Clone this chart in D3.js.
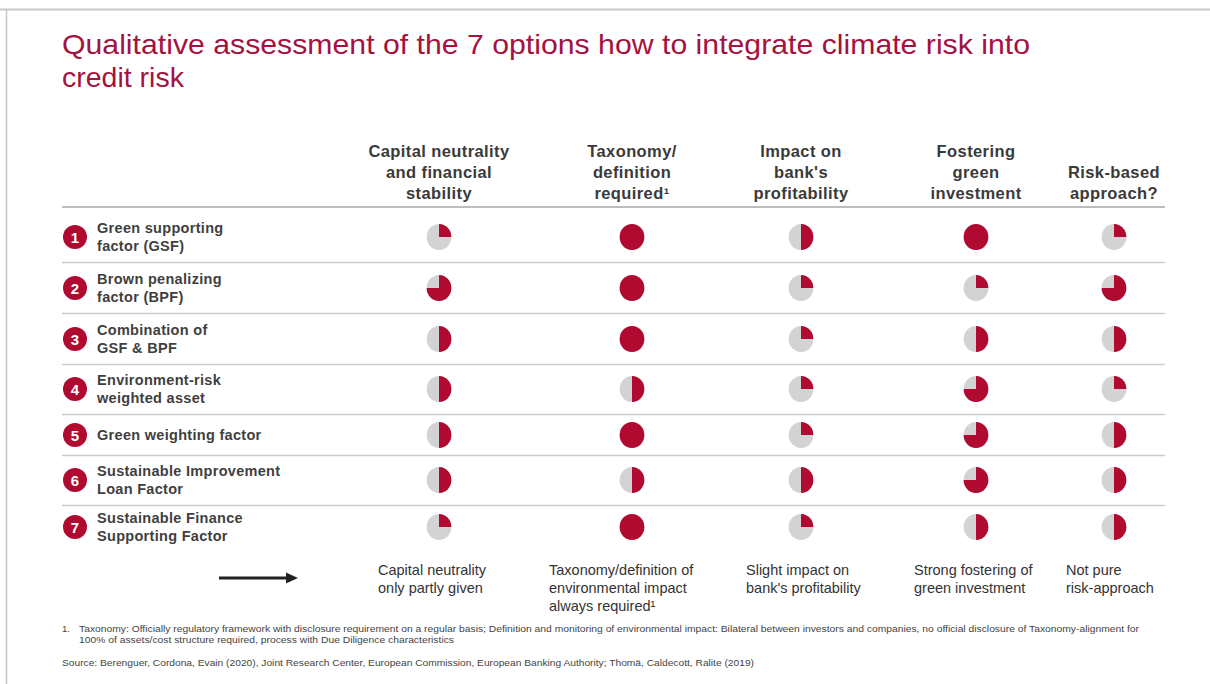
<!DOCTYPE html>
<html><head><meta charset="utf-8">
<script src="https://cdn.jsdelivr.net/npm/d3@7"></script>
<style>body{margin:0;background:#fff}svg{display:block}</style>
</head><body><svg id="c" width="1210" height="684"></svg>
<script>
const titleLines = ["Qualitative assessment of the 7 options how to integrate climate risk into", "credit risk"];
const criteria = [
  ["Capital neutrality", "and financial", "stability"],
  ["Taxonomy/", "definition", "required¹"],
  ["Impact on", "bank's", "profitability"],
  ["Fostering", "green", "investment"],
  ["Risk-based", "approach?"]
];
const options = [
  ["Green supporting", "factor (GSF)"],
  ["Brown penalizing", "factor (BPF)"],
  ["Combination of", "GSF & BPF"],
  ["Environment-risk", "weighted asset"],
  ["Green weighting factor"],
  ["Sustainable Improvement", "Loan Factor"],
  ["Sustainable Finance", "Supporting Factor"]
];
// share of the circle filled (0..1) per option (rows) x criterion (cols)
const scores = [
  [0.25, 1, 0.5, 1, 0.25],
  [0.75, 1, 0.25, 0.25, 0.75],
  [0.5, 1, 0.25, 0.5, 0.5],
  [0.5, 0.5, 0.25, 0.75, 0.25],
  [0.5, 1, 0.25, 0.75, 0.5],
  [0.5, 0.5, 0.5, 0.75, 0.5],
  [0.25, 1, 0.25, 0.5, 0.5]
];
const conclusions = [
  ["Capital neutrality", "only partly given"],
  ["Taxonomy/definition  of", "environmental  impact", "always required¹"],
  ["Slight impact on", "bank's profitability"],
  ["Strong fostering of", "green investment"],
  ["Not pure", "risk-approach"]
];
const footnote = ["1.", "Taxonomy: Officially regulatory framework with disclosure requirement on a regular basis; Definition and monitoring of environmental impact: Bilateral between investors and companies, no official disclosure of Taxonomy-alignment for",
  "100% of assets/cost structure required, process with Due Diligence characteristics"];
const source = "Source: Berenguer, Cordona, Evain (2020), Joint Research Center, European Commission, European Banking Authority; Thomä, Caldecott, Ralite (2019)";

const RED = "#b00a30", GREY = "#d3d3d3", TITLE = "#a4123f";
const svg = d3.select("#c");
const font = "Liberation Sans, Arial, sans-serif";

// slide frame
svg.append("line").attr("x1",0).attr("x2",1210).attr("y1",9.5).attr("y2",9.5).attr("stroke","#c8c8c8").attr("stroke-width",2);
svg.append("line").attr("x1",6.5).attr("x2",6.5).attr("y1",9).attr("y2",684).attr("stroke","#c8c8c8").attr("stroke-width",1.5);

// title
svg.append("g").selectAll("text").data(titleLines).join("text")
  .attr("x",62).attr("y",(d,i)=>54+i*33).attr("fill",TITLE)
  .attr("font-family",font).attr("font-size",28.5).attr("textLength",(d,i)=>i===0?968:null)
  .attr("lengthAdjust","spacingAndGlyphs").text(d=>d);

const colX = [439,632,801,976,1114];
const rowY = [237,288,339,389,435,480,527];
const sepY = [262.5,313.5,364.5,414.5,455.5,505.5];
const yScale = d3.scaleOrdinal().domain(d3.range(options.length)).range(rowY);
const xScale = d3.scaleOrdinal().domain(d3.range(criteria.length)).range(colX);

// header
const hdr = svg.append("g");
criteria.forEach((lines,j)=>{
  const n = lines.length;
  hdr.append("text").attr("x",xScale(j)).attr("text-anchor","middle")
    .attr("font-family",font).attr("font-weight","bold").attr("font-size",16.5).attr("letter-spacing",0.4).attr("fill","#3a3a3a")
    .selectAll("tspan").data(lines).join("tspan")
    .attr("x",xScale(j)).attr("y",(d,i)=>199-(n-1-i)*21).text(d=>d);
});
svg.append("line").attr("x1",62).attr("x2",1165).attr("y1",207).attr("y2",207).attr("stroke","#bdbdbd").attr("stroke-width",2.2);

// row separators
svg.append("g").selectAll("line").data(sepY).join("line")
  .attr("x1",62).attr("x2",1165).attr("y1",d=>d).attr("y2",d=>d).attr("stroke","#cccccc").attr("stroke-width",1.6);

// row labels
const rows = svg.append("g").selectAll("g").data(options).join("g")
  .attr("transform",(d,i)=>`translate(0,${yScale(i)})`);
rows.append("circle").attr("cx",75).attr("cy",0).attr("r",12).attr("fill",RED);
rows.append("text").attr("x",75).attr("y",5.5).attr("text-anchor","middle").attr("fill","#fff")
  .attr("font-family",font).attr("font-weight","bold").attr("font-size",15).text((d,i)=>i+1);
rows.append("text").attr("font-family",font).attr("font-weight","bold").attr("font-size",14.5).attr("letter-spacing",0.3).attr("fill","#3f3f3f")
  .each(function(d){
    const t = d3.select(this);
    const n = d.length;
    d.forEach((line,k)=>{
      t.append("tspan").attr("x",97).attr("y",(k-(n-1)/2)*18+5).text(line);
    });
  });

// harvey balls
const arc = d3.arc().innerRadius(0).outerRadius(13);
const cells = [];
scores.forEach((row,i)=>row.forEach((v,j)=>cells.push({i,j,v})));
const balls = svg.append("g").selectAll("g").data(cells).join("g")
  .attr("transform",d=>`translate(${xScale(d.j)},${yScale(d.i)}) scale(0.95,1)`);
balls.append("circle").attr("r",13).attr("fill",GREY);
balls.append("path").attr("fill",RED)
  .attr("d",d=>arc({startAngle:0,endAngle:d.v*2*Math.PI}));

// arrow
svg.append("line").attr("x1",219).attr("x2",288).attr("y1",578).attr("y2",578).attr("stroke","#222").attr("stroke-width",3);
svg.append("path").attr("d","M286,572.5 L298,578 L286,583.5 Z").attr("fill","#222");

// conclusions
const concX = [378,549,746,914,1066];
conclusions.forEach((lines,j)=>{
  svg.append("text").attr("font-family",font).attr("font-size",14.5).attr("fill","#333")
    .selectAll("tspan").data(lines).join("tspan")
    .attr("x",concX[j]).attr("y",(d,i)=>575+i*18).text(d=>d);
});

// footnote & source
const fs = svg.append("g").attr("font-family",font).attr("font-size",9.5).attr("fill","#444");
fs.append("text").attr("x",62).attr("y",632).text(footnote[0]);
fs.append("text").attr("x",79).attr("y",632).attr("textLength",1060).attr("lengthAdjust","spacingAndGlyphs").text(footnote[1]);
fs.append("text").attr("x",79).attr("y",643).attr("textLength",375).attr("lengthAdjust","spacingAndGlyphs").text(footnote[2]);
fs.append("text").attr("x",62).attr("y",666).attr("textLength",692).attr("lengthAdjust","spacingAndGlyphs").text(source);
</script></body></html>
